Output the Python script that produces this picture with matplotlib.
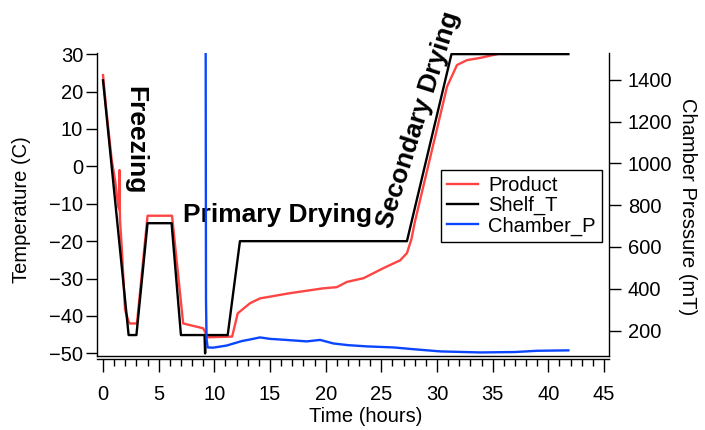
import numpy as np
import matplotlib.pyplot as plt
from matplotlib.ticker import MultipleLocator

plt.rcParams['font.family'] = ['Liberation Sans', 'DejaVu Sans']

# Product temperature (C)
product_time = [0, 0.3, 0.78, 1.1, 1.37, 1.45, 1.48, 1.52, 1.68, 1.98, 2.3, 2.4, 3.05,
                4.0, 6.2, 7.2, 9.0, 9.4, 11.6, 12.1, 13.2, 14.1, 16.8, 19.8,
                21.0, 21.9, 23.4, 25.2, 26.7, 27.3, 27.7, 28.0, 29.4, 30.9, 31.8,
                32.7, 33.9, 35.7, 41.8]
product_t = [24.4, 15, 1.7, -4, -10.8, -11.5, -1, -14, -21.5, -38.4, -41.5, -42, -42,
             -13.2, -13.2, -42, -43.3, -45.7, -45.5, -39.3, -36.6, -35.3, -33.9, -32.6,
             -32.3, -30.9, -29.9, -27.2, -25.1, -23.2, -19.5, -15, 2.5, 21.3, 27.1,
             28.4, 29, 30.2, 30.5]

# Shelf temperature (C)
shelf_time = [0, 2.3, 3.0, 4.0, 6.16, 7.0, 9.12, 9.17, 9.22, 11.2, 12.3, 27.3, 31.3, 41.8]
shelf_t = [23, -45.1, -45.1, -15.2, -15.2, -45.1, -45.1, -50, -45.1, -45.1, -20, -20, 30, 30]

# Chamber pressure (mT)
press_time = [9.22, 9.25, 9.3, 9.4, 9.9, 11.1, 12.5, 13.2, 14.1, 15.0, 15.9, 18.3, 19.5,
              20.7, 22.0, 23.7, 26.1, 28.0, 30.3, 33.9, 37.0, 39.0, 41.8]
chamber_p = [1600, 350, 160, 119, 118, 128, 150, 157, 167, 160, 157, 148, 155,
             138, 130, 124, 119, 110, 100, 95, 97, 103, 105]

fig = plt.figure(figsize=(7.05, 4.3), dpi=100)
ax = fig.add_axes([97/705, 1-356/430, 512/705, 303/430])
ax2 = ax.twinx()

l1, = ax.plot(product_time, product_t, color='#ff4444', lw=1.7, label='Product')
l2, = ax.plot(shelf_time, shelf_t, color='black', lw=1.7, label='Shelf_T')
l3, = ax2.plot(press_time, chamber_p, color='#0a46ff', lw=1.7, label='Chamber_P')

ax.set_xlim(-0.54, 45.45)
ax.set_ylim(-50.7, 30.3)
ax2.set_ylim(78, 1529)

ax.spines['top'].set_visible(False)
ax.spines['right'].set_visible(False)
ax.spines['bottom'].set_position(('outward', 2.2))
ax2.spines['top'].set_visible(False)
ax2.spines['left'].set_visible(False)
for s in ['left', 'bottom']:
    ax.spines[s].set_linewidth(1.0)
for s in ['right', 'bottom']:
    ax2.spines[s].set_linewidth(1.0)

ax.xaxis.set_major_locator(MultipleLocator(5))
ax.xaxis.set_minor_locator(MultipleLocator(1))
ax.yaxis.set_major_locator(MultipleLocator(10))
ax2.set_yticks([200, 400, 600, 800, 1000, 1200, 1400])

ax.tick_params(axis='x', which='major', direction='out', length=9.5, width=1, pad=9, labelsize=14.5)
ax.tick_params(axis='x', which='minor', direction='out', length=5, width=1)
ax.tick_params(axis='y', direction='out', length=8, width=1, pad=2, labelsize=14.5)
ax2.tick_params(axis='y', direction='out', length=8.5, width=1, pad=5, labelsize=14.5)

fig.text(22/705, 1-210/430, 'Temperature (C)', rotation=90, ha='center', va='center', fontsize=14.5)
fig.text(688/705, 1-207/430, 'Chamber Pressure (mT)', rotation=-90, ha='center', va='center', fontsize=14.5)
fig.text(366/705, 1-416/430, 'Time (hours)', ha='center', va='center', fontsize=14.5)

ax.text(2.88, 7.0, 'Freezing', rotation=-90, rotation_mode='anchor', ha='center', va='center',
        fontsize=19, fontweight='bold')
ax.text(7.19, -14.9, 'Primary Drying', ha='left', va='baseline', fontsize=19, fontweight='bold')
ax.text(28.3, 12.4, 'Secondary Drying', rotation=72.5, rotation_mode='anchor', ha='center',
        va='center', fontsize=19, fontweight='bold')

leg = ax2.legend([l1, l2, l3], ['Product', 'Shelf_T', 'Chamber_P'], loc='upper left',
                 bbox_to_anchor=(0.672, 0.614), borderaxespad=0, fontsize=14.5,
                 frameon=True, fancybox=False, edgecolor='black', framealpha=1,
                 handlelength=1.55, handletextpad=0.5, labelspacing=0.05, borderpad=0.3)
leg.get_frame().set_linewidth(1.0)

fig.savefig('out.png', dpi=100)
